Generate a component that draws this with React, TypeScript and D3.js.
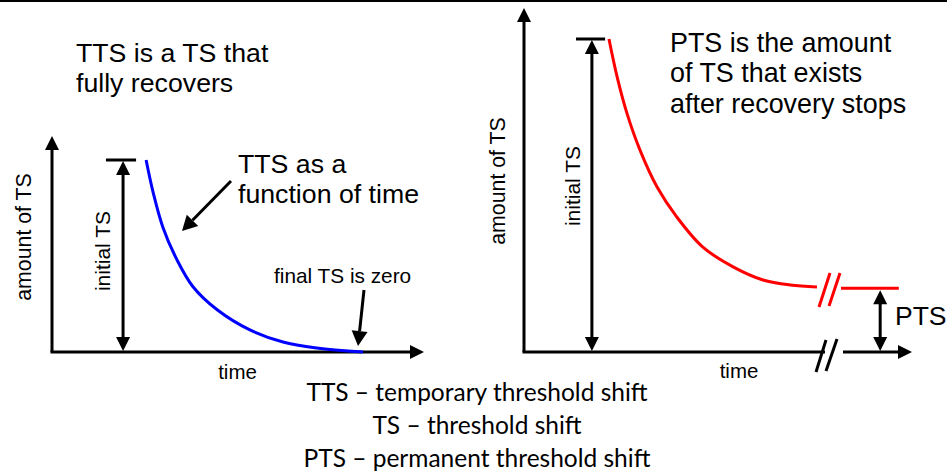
import React from "react";
import * as d3 from "d3";

// ---- data (arbitrary units: time 0..10, TS normalised to initial TS = 1) ----
const leftTime = [2.53, 2.72, 2.98, 3.36, 3.79, 4.44, 5.32, 6.21, 7.12, 8.36];
const leftTTS = [1.0, 0.83, 0.65, 0.48, 0.34, 0.22, 0.115, 0.052, 0.021, 0.0];
const rightTime = [2.19, 2.4, 2.65, 2.99, 3.43, 3.94, 4.61, 5.39, 6.16, 6.86, 7.55];
const rightTS = [1.0, 0.879, 0.764, 0.645, 0.527, 0.431, 0.335, 0.272, 0.23, 0.214, 0.208];
const ptsTime = [8.17, 9.66];
const ptsLevel = 0.204;
const legendLines = [
  "TTS \u2013 temporary threshold shift",
  "TS \u2013 threshold shift",
  "PTS \u2013 permanent threshold shift",
];

const W = 947;
const H = 474;
const ARIAL = "'Liberation Sans', Arial, sans-serif";

function tri(tx: number, ty: number, dir: "up" | "down" | "right" | "left", len = 14, half = 7) {
  let pts: [number, number][];
  if (dir === "up") pts = [[tx, ty], [tx - half, ty + len], [tx + half, ty + len]];
  else if (dir === "down") pts = [[tx, ty], [tx - half, ty - len], [tx + half, ty - len]];
  else if (dir === "right") pts = [[tx, ty], [tx - len, ty - half], [tx - len, ty + half]];
  else pts = [[tx, ty], [tx + len, ty - half], [tx + len, ty + half]];
  return "M" + pts.map((p) => p.join(",")).join("L") + "Z";
}

function arrowPath(x1: number, y1: number, x2: number, y2: number, len = 14, half = 7) {
  const a = Math.atan2(y2 - y1, x2 - x1);
  const bx = x2 - len * Math.cos(a);
  const by = y2 - len * Math.sin(a);
  const px = -Math.sin(a) * half;
  const py = Math.cos(a) * half;
  return {
    line: `M${x1},${y1}L${bx},${by}`,
    head: `M${x2},${y2}L${bx + px},${by + py}L${bx - px},${by - py}Z`,
  };
}

export default function App() {
  // left panel scales
  const xL = d3.scaleLinear().domain([0, 10]).range([52, 424]);
  const yL = d3.scaleLinear().domain([0, 1]).range([352, 160]);
  // right panel scales
  const xR = d3.scaleLinear().domain([0, 10]).range([524, 912]);
  const yR = d3.scaleLinear().domain([0, 1]).range([352, 39]);

  const lineL = d3
    .line<number>()
    .x((_, i) => xL(leftTime[i]))
    .y((d) => yL(d))
    .curve(d3.curveCatmullRom.alpha(0.5));
  const lineR = d3
    .line<number>()
    .x((_, i) => xR(rightTime[i]))
    .y((d) => yR(d))
    .curve(d3.curveCatmullRom.alpha(0.5));

  const sw = 3;

  // left elements
  const lAxisTopTip = yL(1.125);
  const lAxisRightTip = xL(10);
  const lInitX = xL(1.91);
  const fnArrow = arrowPath(231, 181, 182, 231, 15, 8);
  const zeroArrow = arrowPath(364, 290, 358, 346, 15, 8);

  // right elements
  const rAxisTopTip = yR(1.099);
  const rAxisRightTip = xR(10);
  const rInitX = xR(1.75);
  const ptsX = xR(9.18);
  const brkA = xR(7.5) + 10;

  return (
    <svg
      width={W}
      height={H}
      style={{ position: "absolute", left: 0, top: 0, background: "#fff" }}
    >
      <rect x={0} y={0} width={W} height={H} fill="#fff" />
      <line x1={0} y1={1} x2={W} y2={1} stroke="#000" strokeWidth={2} />

      {/* ---------- LEFT PANEL ---------- */}
      <g fontFamily={ARIAL} fill="#000">
        <text x={76} y={62} fontSize={26.7}>TTS is a TS that</text>
        <text x={76} y={92} fontSize={26.7}>fully recovers</text>
        <text x={238} y={173} fontSize={26.7}>TTS as a</text>
        <text x={238} y={203} fontSize={26.7}>function of time</text>
        <text x={274} y={283} fontSize={20.8}>final TS is zero</text>
        <text transform={`translate(31,237) rotate(-90)`} textAnchor="middle" fontSize={21.3}>amount of TS</text>
        <text transform={`translate(110,251) rotate(-90)`} textAnchor="middle" fontSize={21}>initial TS</text>
        <text x={237.5} y={379} textAnchor="middle" fontSize={20.5}>time</text>
      </g>
      {/* axes */}
      <path d={`M${xL(0)},${yL(0)}L${xL(0)},${lAxisTopTip + 12}`} stroke="#000" strokeWidth={sw} fill="none" />
      <path d={tri(xL(0), lAxisTopTip, "up", 14, 7)} fill="#000" />
      <path d={`M${xL(0) - 1.5},${yL(0)}L${lAxisRightTip - 12},${yL(0)}`} stroke="#000" strokeWidth={sw} fill="none" />
      <path d={tri(lAxisRightTip, yL(0), "right", 14, 7)} fill="#000" />
      {/* initial TS marker */}
      <line x1={xL(1.45)} y1={yL(1)} x2={xL(2.26)} y2={yL(1)} stroke="#000" strokeWidth={sw} />
      <line x1={lInitX} y1={yL(1) + 12} x2={lInitX} y2={yL(0) - 12} stroke="#000" strokeWidth={sw} />
      <path d={tri(lInitX, yL(1) + 1, "up", 14, 7)} fill="#000" />
      <path d={tri(lInitX, yL(0) - 1, "down", 14, 7)} fill="#000" />
      {/* curve */}
      <path d={lineL(leftTTS) || ""} stroke="#0000ff" strokeWidth={3} fill="none" />
      {/* annotation arrows */}
      <path d={fnArrow.line} stroke="#000" strokeWidth={3} fill="none" />
      <path d={fnArrow.head} fill="#000" />
      <path d={zeroArrow.line} stroke="#000" strokeWidth={3} fill="none" />
      <path d={zeroArrow.head} fill="#000" />

      {/* ---------- RIGHT PANEL ---------- */}
      <g fontFamily={ARIAL} fill="#000">
        <text x={670} y={52} fontSize={26.9}>PTS is the amount</text>
        <text x={670} y={82} fontSize={26.9}>of TS that exists</text>
        <text x={670} y={113} fontSize={26.9}>after recovery stops</text>
        <text transform={`translate(505,181) rotate(-90)`} textAnchor="middle" fontSize={21.3}>amount of TS</text>
        <text transform={`translate(580,186) rotate(-90)`} textAnchor="middle" fontSize={21}>initial TS</text>
        <text x={739} y={378} textAnchor="middle" fontSize={20.5}>time</text>
        <text x={895} y={325} fontSize={26.5}>PTS</text>
      </g>
      <path d={`M${xR(0)},${yR(0)}L${xR(0)},${rAxisTopTip + 12}`} stroke="#000" strokeWidth={sw} fill="none" />
      <path d={tri(xR(0), rAxisTopTip, "up", 14, 7)} fill="#000" />
      <path d={`M${xR(0) - 1.5},${yR(0)}L${brkA},${yR(0)}`} stroke="#000" strokeWidth={sw} fill="none" />
      <path d={`M${brkA + 18},${yR(0)}L${rAxisRightTip - 12},${yR(0)}`} stroke="#000" strokeWidth={sw} fill="none" />
      <path d={tri(rAxisRightTip, yR(0), "right", 14, 7)} fill="#000" />
      {/* axis break marks */}
      <line x1={816} y1={372} x2={826} y2={340} stroke="#000" strokeWidth={3} />
      <line x1={826} y1={371} x2={837} y2={339} stroke="#000" strokeWidth={3} />
      {/* initial TS marker */}
      <line x1={xR(1.34)} y1={yR(1)} x2={xR(2.09)} y2={yR(1)} stroke="#000" strokeWidth={sw} />
      <line x1={rInitX} y1={yR(1) + 12} x2={rInitX} y2={yR(0) - 12} stroke="#000" strokeWidth={sw} />
      <path d={tri(rInitX, yR(1) + 1, "up", 14, 7)} fill="#000" />
      <path d={tri(rInitX, yR(0) - 1, "down", 14, 7)} fill="#000" />
      {/* curve */}
      <path d={lineR(rightTS) || ""} stroke="#ff0000" strokeWidth={3} fill="none" />
      <line x1={xR(ptsTime[0])} y1={yR(ptsLevel)} x2={xR(ptsTime[1])} y2={yR(ptsLevel)} stroke="#ff0000" strokeWidth={3} />
      <line x1={819} y1={307} x2={830} y2={273} stroke="#ff0000" strokeWidth={3} />
      <line x1={829} y1={306} x2={840} y2={273} stroke="#ff0000" strokeWidth={3} />
      {/* PTS arrow */}
      <line x1={ptsX} y1={yR(ptsLevel) + 14} x2={ptsX} y2={yR(0) - 12} stroke="#000" strokeWidth={sw} />
      <path d={tri(ptsX, yR(ptsLevel) + 2, "up", 14, 7)} fill="#000" />
      <path d={tri(ptsX, yR(0) - 1, "down", 14, 7)} fill="#000" />

      {/* ---------- LEGEND ---------- */}
      <g fontFamily="Lato, 'Open Sans', sans-serif" fontSize={24.5} fill="#000" textAnchor="middle">
        {legendLines.map((t, i) => (
          <text key={i} x={477} y={401 + i * 33}>{t}</text>
        ))}
      </g>
    </svg>
  );
}
